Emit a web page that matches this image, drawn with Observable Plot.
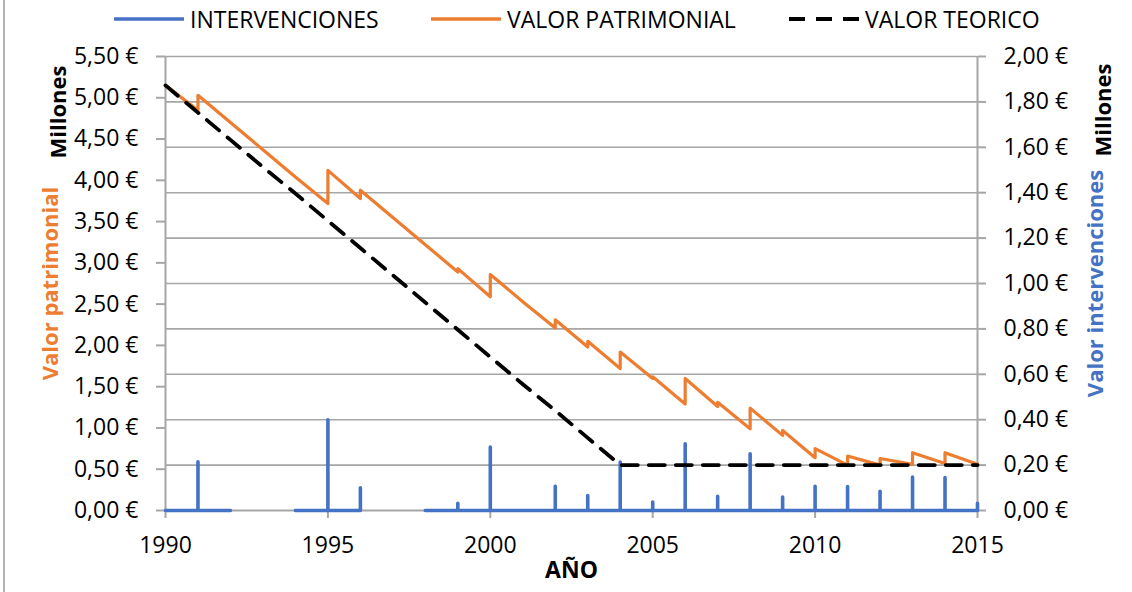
<!DOCTYPE html>
<html>
<head>
<meta charset="utf-8">
<script src="https://cdn.jsdelivr.net/npm/d3@7"></script>
<script src="https://cdn.jsdelivr.net/npm/@observablehq/plot@0.6"></script>
<style>
  html, body { margin: 0; padding: 0; background: #fff; }
  #wrap { position: relative; width: 1132px; height: 592px; overflow: hidden; font-family: "Open Sans", sans-serif; }
  #border { position: absolute; left: 3px; top: 0; width: 2px; height: 592px; background: #b4b4b4; }
  .leg { position: absolute; top: 0; height: 38px; display: flex; align-items: center; font-size: 23px; color: #000; white-space: nowrap; }
  .leg svg { margin-right: 6px; }
  #chart { position: absolute; left: 0; top: 0; }
</style>
</head>
<body>
<div id="wrap">
  <div id="border"></div>
  <div id="chart"></div>
  <div id="legend"></div>
</div>
<script>
// ---- data (millones de €) ----
const years = [1990,1991,1992,1993,1994,1995,1996,1997,1998,1999,2000,2001,2002,2003,2004,2005,2006,2007,2008,2009,2010,2011,2012,2013,2014,2015];
// intervenciones (eje derecho); null = sin dato
const intervenciones = [0,0.215,0,null,0,0.40,0.10,null,0,0.032,0.28,0,0.107,0.066,0.213,0.037,0.294,0.063,0.25,0.059,0.107,0.106,0.085,0.147,0.145,0.032];
// valor patrimonial justo antes y justo después de cada intervención (eje izquierdo)
const valorAntes   = [5.15,4.85,4.70,4.37,4.04,3.72,3.78,3.55,3.22,2.89,2.59,2.53,2.21,1.98,1.72,1.60,1.29,1.26,0.99,0.91,0.64,0.55,0.55,0.56,0.57,0.56];
const valorDespues = [5.15,5.03,4.70,4.37,4.04,4.12,3.88,3.55,3.22,2.93,2.86,2.53,2.31,2.05,1.92,1.62,1.60,1.31,1.24,0.97,0.75,0.66,0.63,0.70,0.70,0.56];
// valor teórico (eje izquierdo)
const valorTeorico = [5.15,4.82,4.49,4.16,3.84,3.51,3.18,2.85,2.52,2.19,1.86,1.53,1.21,0.88,0.55,0.55,0.55,0.55,0.55,0.55,0.55,0.55,0.55,0.55,0.55,0.55];
const xTicks = [1990,1995,2000,2005,2010,2015];
const leftTicks = [0,0.5,1,1.5,2,2.5,3,3.5,4,4.5,5,5.5];
const rightTicks = [0,0.2,0.4,0.6,0.8,1.0,1.2,1.4,1.6,1.8,2.0];
const leftMax = 5.5, rightMax = 2.0;

const BLUE = "#4472C4", ORANGE = "#ED7D31", GRAY = "#a6a6a6";
const K = leftMax / rightMax;
const fmt = v => v.toFixed(2).replace(".", ",") + " €";

// build series tables
const blue = [];
years.forEach((yr, i) => {
  const v = intervenciones[i];
  if (v === null) { blue.push({x: yr, y: NaN}); return; }
  blue.push({x: yr, y: 0});
  if (v > 0) { blue.push({x: yr, y: v * K}); blue.push({x: yr, y: 0}); }
});
const orange = [];
years.forEach((yr, i) => {
  orange.push({x: yr, y: valorAntes[i]});
  if (valorDespues[i] !== valorAntes[i]) orange.push({x: yr, y: valorDespues[i]});
});
const teorico = years.map((yr, i) => ({x: yr, y: valorTeorico[i]}));

const chart = Plot.plot({
  width: 1132,
  height: 592,
  marginTop: 56,
  marginBottom: 82,
  marginLeft: 165,
  marginRight: 155,
  x: {domain: [years[0], years[years.length - 1]]},
  y: {domain: [0, leftMax]},
  style: {fontFamily: "'Open Sans', sans-serif", fontSize: "23px", color: "#000", background: "transparent", overflow: "visible"},
  marks: [
    Plot.gridY(rightTicks.slice(1).map(v => v * K), {stroke: GRAY, strokeOpacity: 1, strokeWidth: 1.6}),
    Plot.ruleX([years[0], years[years.length - 1]], {stroke: GRAY, strokeWidth: 2}),
    Plot.ruleY([0], {stroke: GRAY, strokeWidth: 2}),
    Plot.axisY({anchor: "left", ticks: leftTicks, tickFormat: fmt, tickSize: 9, tickPadding: 18, label: null, stroke: GRAY, strokeWidth: 2}),
    Plot.axisY({anchor: "right", ticks: rightTicks.map(v => v * K), tickFormat: d => fmt(d / K), tickSize: 8, tickPadding: 18, label: null, stroke: GRAY, strokeWidth: 2}),
    Plot.axisX({ticks: xTicks, tickFormat: d => String(d), tickSize: 8, tickPadding: 18, label: null, stroke: GRAY, strokeWidth: 2}),
    Plot.line(blue, {x: "x", y: "y", stroke: BLUE, strokeWidth: 3.6, strokeLinejoin: "round", strokeLinecap: "round"}),
    Plot.line(orange, {x: "x", y: "y", stroke: ORANGE, strokeWidth: 3.2, strokeLinejoin: "round"}),
    Plot.line(teorico, {x: "x", y: "y", stroke: "#000", strokeWidth: 3.8, strokeDasharray: "16,11"}),
    Plot.text(["AÑO"], {text: d => d, frameAnchor: "bottom", dy: 67, fontWeight: "bold", fontSize: 23, fill: "#000"}),
    Plot.text(["Valor patrimonial"], {text: d => d, frameAnchor: "left", rotate: -90, dx: -115, fontWeight: "bold", fontSize: 22, fill: ORANGE, textAnchor: "middle"}),
    Plot.text(["Millones"], {text: d => d, frameAnchor: "top-left", rotate: -90, dx: -115, dy: 9, fontWeight: "bold", fontSize: 22, fill: "#000", textAnchor: "end"}),
    Plot.text(["Valor intervenciones"], {text: d => d, frameAnchor: "right", rotate: -90, dx: 118, fontWeight: "bold", fontSize: 22, fill: BLUE, textAnchor: "middle"}),
    Plot.text(["Millones"], {text: d => d, frameAnchor: "top-right", rotate: -90, dx: 118, dy: 7, fontWeight: "bold", fontSize: 22, fill: "#000", textAnchor: "end"})
  ]
});
document.getElementById("chart").appendChild(chart);

// legend
const legendItems = [
  {label: "INTERVENCIONES", color: BLUE, dash: null, left: 114},
  {label: "VALOR PATRIMONIAL", color: ORANGE, dash: null, left: 431},
  {label: "VALOR TEORICO", color: "#000", dash: "16,11", left: 789}
];
const legend = document.getElementById("legend");
legendItems.forEach(it => {
  const d = document.createElement("div");
  d.className = "leg";
  d.style.left = it.left + "px";
  d.innerHTML = `<svg width="70" height="10"><line x1="0" y1="5" x2="70" y2="5" stroke="${it.color}" stroke-width="${it.dash ? 4 : 3.6}" ${it.dash ? `stroke-dasharray="${it.dash}"` : ""}/></svg><span>${it.label}</span>`;
  legend.appendChild(d);
});
</script>
</body>
</html>
